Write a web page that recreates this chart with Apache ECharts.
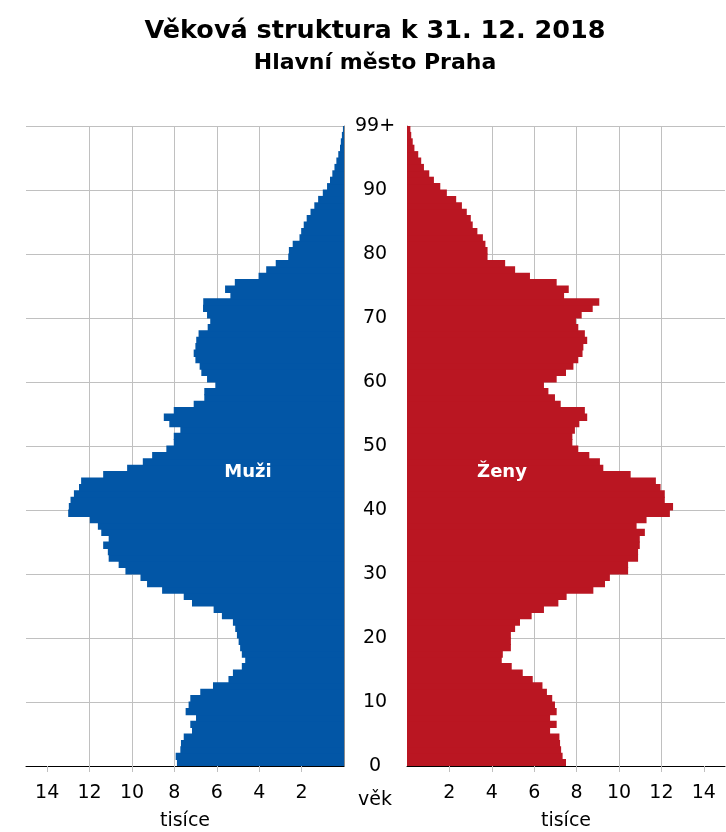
<!DOCTYPE html>
<html>
<head>
<meta charset="utf-8">
<script src="https://cdn.jsdelivr.net/npm/echarts@6/dist/echarts.min.js"></script>
<style>
html,body{margin:0;padding:0;background:#fff;}
#chart{width:726px;height:832px;}
</style>
</head>
<body>
<div id="chart"></div>
<script>
// Ages 0..99 (99 = 99+)
const ages = Array.from({length: 100}, (_, i) => String(i));
const ageTickLabels = ['0','10','20','30','40','50','60','70','80','90','99+'];
const xTickValues = [2, 4, 6, 8, 10, 12, 14];

// Men, thousands, age 0..99
const men = [
  7.88, 7.94, 7.72, 7.69, 7.56, 7.17, 7.25, 6.98, 7.47, 7.33,
  7.25, 6.78, 6.18, 5.45, 5.24, 4.82, 4.66, 4.82, 4.90, 4.97,
  5.05, 5.13, 5.24, 5.76, 6.15, 7.17, 7.56, 8.58, 9.29, 9.60,
  10.31, 10.63, 11.10, 11.14, 11.36, 11.10, 11.45, 11.61, 11.99, 13.01,
  12.98, 12.90, 12.74, 12.50, 12.40, 11.36, 10.23, 9.49, 9.05, 8.38,
  8.03, 8.03, 7.72, 8.24, 8.50, 8.03, 7.09, 6.59, 6.59, 6.07,
  6.46, 6.73, 6.81, 7.01, 7.09, 7.01, 6.97, 6.86, 6.43, 6.31,
  6.46, 6.65, 6.64, 5.36, 5.61, 5.15, 4.03, 3.67, 3.22, 2.63,
  2.60, 2.42, 2.10, 2.02, 1.90, 1.76, 1.58, 1.40, 1.22, 1.00,
  0.80, 0.66, 0.55, 0.45, 0.36, 0.27, 0.19, 0.15, 0.10, 0.05
];

// Women, thousands, age 0..99
const women = [
  7.50, 7.34, 7.27, 7.22, 7.19, 6.75, 7.06, 6.75, 7.06, 6.98,
  6.85, 6.60, 6.39, 5.93, 5.46, 4.94, 4.47, 4.52, 4.90, 4.90,
  4.90, 5.10, 5.33, 5.88, 6.46, 7.14, 7.53, 8.79, 9.34, 9.57,
  10.43, 10.43, 10.90, 10.90, 10.98, 10.98, 11.22, 10.83, 11.30, 12.40,
  12.55, 12.16, 12.16, 11.96, 11.74, 10.55, 9.26, 9.10, 8.60, 8.08,
  7.80, 7.80, 7.92, 8.13, 8.50, 8.39, 7.25, 6.98, 6.67, 6.46,
  7.06, 7.50, 7.85, 8.08, 8.28, 8.32, 8.50, 8.39, 8.08, 7.97,
  8.24, 8.76, 9.07, 7.41, 7.63, 7.06, 5.80, 5.10, 4.63, 3.80,
  3.80, 3.70, 3.58, 3.32, 3.10, 3.01, 2.82, 2.59, 2.32, 1.88,
  1.57, 1.27, 1.05, 0.80, 0.67, 0.53, 0.35, 0.27, 0.20, 0.16
];

const FONT = 'DejaVu Sans';
const GRID_COLOR = '#c0c0c0';
const MEN_COLOR = '#0256a6';
const WOMEN_COLOR = '#ba1622';
const chart = echarts.init(document.getElementById('chart'), null, {renderer: 'canvas'});

function xAxisCfg(gridIndex, inverse) {
  return {
    type: 'value', gridIndex: gridIndex, min: 0, max: 15, interval: 2, inverse: inverse,
    axisLine: {show: true, lineStyle: {color: '#000', width: 1}},
    axisTick: {show: true, length: 6, lineStyle: {color: GRID_COLOR}, customValues: xTickValues},
    axisLabel: {show: true, color: '#000', fontFamily: FONT, fontSize: 19, margin: 18,
                customValues: xTickValues},
    splitLine: {show: true, showMinLine: false, showMaxLine: false, lineStyle: {color: GRID_COLOR, width: 1}}
  };
}

const option = {
  animation: false,
  backgroundColor: '#fff',
  grid: [
    {left: 26, right: 382, top: 126, bottom: 66, outerBoundsMode: 'none', containLabel: false},
    {left: 407, right: 1, top: 126, bottom: 66, outerBoundsMode: 'none', containLabel: false}
  ],
  xAxis: [xAxisCfg(0, true), xAxisCfg(1, false)],
  yAxis: [
    {type: 'category', gridIndex: 0, data: ages, position: 'right',
     axisLine: {show: false}, axisTick: {show: false}, axisLabel: {show: false}, splitLine: {show: false}},
    {type: 'value', gridIndex: 0, min: 0, max: 100, interval: 10, position: 'right',
     axisLine: {show: true, lineStyle: {color: '#8c8c8c', width: 1}}, axisTick: {show: false}, axisLabel: {show: false},
     splitLine: {show: true, showMinLine: false, lineStyle: {color: GRID_COLOR, width: 1}}},
    {type: 'category', gridIndex: 1, data: ages, position: 'left',
     axisLine: {show: false}, axisTick: {show: false}, axisLabel: {show: false}, splitLine: {show: false}},
    {type: 'value', gridIndex: 1, min: 0, max: 100, interval: 10, position: 'left',
     axisLine: {show: true, lineStyle: {color: '#8c8c8c', width: 1}}, axisTick: {show: false},
     axisLabel: {show: true, color: '#000', fontFamily: FONT, fontSize: 19, align: 'center', margin: 32,
                 formatter: v => ageTickLabels[Math.round(v / 10)]},
     splitLine: {show: true, showMinLine: false, lineStyle: {color: GRID_COLOR, width: 1}}}
  ],
  series: [
    {name: 'Muži', type: 'bar', xAxisIndex: 0, yAxisIndex: 0, data: men,
     barWidth: 7.4, itemStyle: {color: MEN_COLOR}, z: 3},
    {name: 'Ženy', type: 'bar', xAxisIndex: 1, yAxisIndex: 2, data: women,
     barWidth: 7.4, itemStyle: {color: WOMEN_COLOR}, z: 3}
  ],
  graphic: [
    {type: 'text', x: 375, y: 31, z: 10, style: {text: 'Věková struktura k 31. 12. 2018', fill: '#000',
      font: 'bold 25.5px "DejaVu Sans"', align: 'center', verticalAlign: 'middle'}},
    {type: 'text', x: 375, y: 63, z: 10, style: {text: 'Hlavní město Praha', fill: '#000',
      font: 'bold 22px "DejaVu Sans"', align: 'center', verticalAlign: 'middle'}},
    {type: 'text', x: 248, y: 472, z: 10, style: {text: 'Muži', fill: '#fff',
      font: 'bold 18px "DejaVu Sans"', align: 'center', verticalAlign: 'middle'}},
    {type: 'text', x: 502, y: 472, z: 10, style: {text: 'Ženy', fill: '#fff',
      font: 'bold 18px "DejaVu Sans"', align: 'center', verticalAlign: 'middle'}},
    {type: 'text', x: 375, y: 800, z: 10, style: {text: 'věk', fill: '#000',
      font: '19px "DejaVu Sans"', align: 'center', verticalAlign: 'middle'}},
    {type: 'text', x: 185, y: 821, z: 10, style: {text: 'tisíce', fill: '#000',
      font: '19px "DejaVu Sans"', align: 'center', verticalAlign: 'middle'}},
    {type: 'text', x: 566, y: 821, z: 10, style: {text: 'tisíce', fill: '#000',
      font: '19px "DejaVu Sans"', align: 'center', verticalAlign: 'middle'}}
  ]
};
chart.setOption(option);
</script>
</body>
</html>
